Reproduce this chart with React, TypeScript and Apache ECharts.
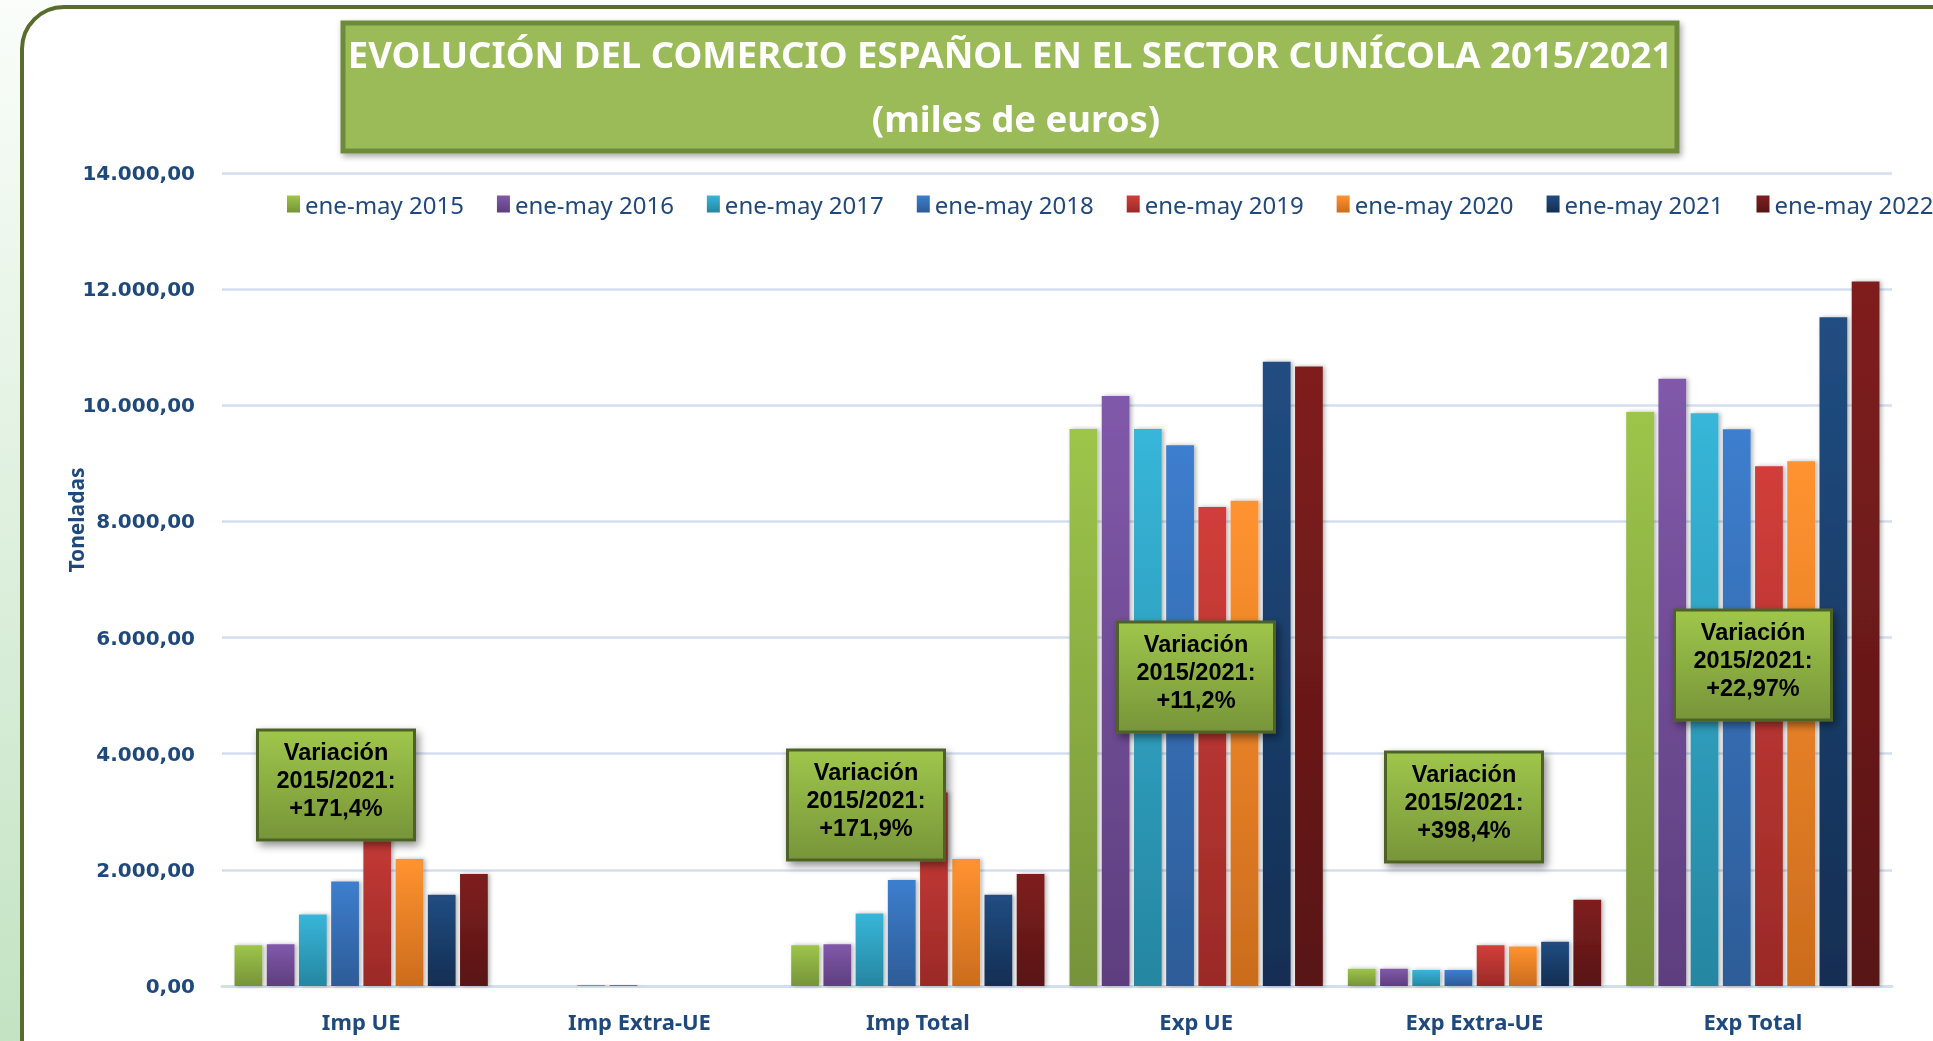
import React, { useEffect, useRef } from "react";
import * as echarts from "echarts";

const categories = ["Imp UE", "Imp Extra-UE", "Imp Total", "Exp UE", "Exp Extra-UE", "Exp Total"];
const seriesNames = [
  "ene-may 2015",
  "ene-may 2016",
  "ene-may 2017",
  "ene-may 2018",
  "ene-may 2019",
  "ene-may 2020",
  "ene-may 2021",
  "ene-may 2022",
];
const v2015 = [700, 0, 700, 9590, 297, 9885];
const v2016 = [720, 0, 720, 10160, 297, 10457];
const v2017 = [1230, 15, 1250, 9590, 276, 9863];
const v2018 = [1800, 15, 1825, 9310, 276, 9587];
const v2019 = [3300, 0, 3330, 8250, 700, 8950];
const v2020 = [2185, 0, 2185, 8356, 680, 9036];
const v2021 = [1570, 0, 1570, 10750, 763, 11517];
const v2022 = [1930, 0, 1930, 10670, 1485, 12132];
const seriesValues = [v2015, v2016, v2017, v2018, v2019, v2020, v2021, v2022];

const yTicks = [0, 2000, 4000, 6000, 8000, 10000, 12000, 14000];

const titleLine1 = "EVOLUCIÓN DEL COMERCIO ESPAÑOL EN EL SECTOR CUNÍCOLA 2015/2021";
const titleLine2 = "(miles de euros)";
const yAxisName = "Toneladas";
const annotationTexts = ["+171,4%", "+171,9%", "+11,2%", "+398,4%", "+22,97%"];

// styling / layout (not data)
const barColors: [string, string][] = [
  ["#9DC54A", "#76933A"],
  ["#8159AA", "#5D3E7E"],
  ["#37B6D9", "#2686A1"],
  ["#3D7ECE", "#2D5C97"],
  ["#D23E3A", "#9A2A27"],
  ["#FF9330", "#CB6C1D"],
  ["#214D82", "#132E52"],
  ["#801F1F", "#581414"],
];
const annotationBoxes = [
  { cx: 336, cy: 785 },
  { cx: 866, cy: 805 },
  { cx: 1196, cy: 677 },
  { cx: 1464, cy: 807 },
  { cx: 1753, cy: 665 },
];

function fmt(v: number) {
  const s = Math.round(v).toString().replace(/\B(?=(\d{3})+(?!\d))/g, ".");
  return s + ",00";
}

export default function App() {
  const ref = useRef<HTMLDivElement>(null);
  useEffect(() => {
    if (!ref.current) return;
    const chart = echarts.init(ref.current, null, { renderer: "svg" });
    const W = 1933;
    const H = 1041;

    const graphics: any[] = [
      {
        type: "rect",
        z: -20,
        silent: true,
        shape: { x: 0, y: 0, width: W, height: H },
        style: {
          fill: new echarts.graphic.LinearGradient(0, 0, 0, 1, [
            { offset: 0, color: "#FAFDFA" },
            { offset: 1, color: "#C3E3C3" },
          ]),
        },
      },
      {
        type: "rect",
        z: -19,
        silent: true,
        shape: { x: 22, y: 7, width: 1950, height: 1080, r: 42 },
        style: { fill: "#FFFFFF", stroke: "#5A6C2C", lineWidth: 4 },
      },
      {
        type: "rect",
        z: 50,
        silent: true,
        shape: { x: 343, y: 23, width: 1334, height: 128 },
        style: {
          fill: "#9BBB59",
          stroke: "#6E8A3A",
          lineWidth: 5,
          shadowBlur: 6,
          shadowOffsetX: 2,
          shadowOffsetY: 3,
          shadowColor: "rgba(0,0,0,0.35)",
        },
      },
      {
        type: "text",
        z: 51,
        silent: true,
        x: 1010,
        y: 54,
        style: {
          text: titleLine1,
          fill: "#FFFFFF",
          fontSize: 36.5,
          fontWeight: "bold",
          fontFamily: "Noto Sans",
          align: "center",
          verticalAlign: "middle",
          textAlign: "center",
          textVerticalAlign: "middle",
        },
      },
      {
        type: "text",
        z: 51,
        silent: true,
        x: 1016,
        y: 118,
        style: {
          text: titleLine2,
          fill: "#FFFFFF",
          fontSize: 36.5,
          fontWeight: "bold",
          fontFamily: "Noto Sans",
          align: "center",
          verticalAlign: "middle",
          textAlign: "center",
          textVerticalAlign: "middle",
        },
      },
      {
        type: "text",
        z: 51,
        silent: true,
        x: 76,
        y: 520,
        rotation: Math.PI / 2,
        style: {
          text: yAxisName,
          fill: "#1F497D",
          fontSize: 21,
          fontWeight: "bold",
          fontFamily: "Noto Sans",
          align: "center",
          verticalAlign: "middle",
          textAlign: "center",
          textVerticalAlign: "middle",
        },
      },
    ];

    annotationTexts.forEach((t, i) => {
      const b = annotationBoxes[i];
      const w = 157;
      const h = 110;
      graphics.push({
        type: "rect",
        z: 60,
        silent: true,
        shape: { x: b.cx - w / 2, y: b.cy - h / 2, width: w, height: h },
        style: {
          fill: new echarts.graphic.LinearGradient(0, 0, 0, 1, [
            { offset: 0, color: "#9FC64B" },
            { offset: 1, color: "#779539" },
          ]),
          stroke: "#4F6228",
          lineWidth: 3,
          shadowBlur: 8,
          shadowOffsetX: 3,
          shadowOffsetY: 4,
          shadowColor: "rgba(0,0,0,0.45)",
        },
      });
      graphics.push({
        type: "text",
        z: 61,
        silent: true,
        x: b.cx,
        y: b.cy - 5,
        style: {
          text: "Variación\n2015/2021:\n" + t,
          fill: "#000000",
          fontSize: 23.5,
          fontWeight: "bold",
          fontFamily: "Liberation Sans",
          lineHeight: 28,
          align: "center",
          verticalAlign: "middle",
          textAlign: "center",
          textVerticalAlign: "middle",
        },
      });
    });

    const option: any = {
      animation: false,
      backgroundColor: "transparent",
      grid: { left: 222, right: 41, top: 173, bottom: 55, containLabel: false },
      legend: {
        show: true,
        left: 287,
        top: 192,
        width: 1700,
        padding: 0,
        itemWidth: 13,
        itemHeight: 17,
        itemGap: 33,
        icon: "rect",
        data: seriesNames,
        textStyle: { color: "#1F497D", fontSize: 24, fontFamily: "Noto Sans" },
      },
      xAxis: {
        type: "category",
        data: categories,
        axisLine: { lineStyle: { color: "#D3DFEF", width: 3 } },
        axisTick: { show: false },
        axisLabel: {
          color: "#1F497D",
          fontSize: 22,
          fontWeight: "bold",
          fontFamily: "Noto Sans",
          margin: 24,
        },
      },
      yAxis: {
        type: "value",
        min: yTicks[0],
        max: yTicks[yTicks.length - 1],
        interval: yTicks[1] - yTicks[0],
        axisLine: { show: false },
        axisTick: { show: false },
        splitLine: { lineStyle: { color: "#D3DFEF", width: 2.5 } },
        axisLabel: {
          formatter: (v: number) => fmt(v),
          color: "#1F497D",
          fontSize: 20,
          fontWeight: "bold",
          fontFamily: "DejaVu Sans",
          margin: 27,
        },
      },
      series: seriesNames.map((n, i) => ({
        name: n,
        type: "bar",
        data: seriesValues[i],
        barGap: "16%",
        barCategoryGap: "9%",
        itemStyle: {
          color: new echarts.graphic.LinearGradient(0, 0, 0, 1, [
            { offset: 0, color: barColors[i][0] },
            { offset: 1, color: barColors[i][1] },
          ]),
          shadowBlur: 4,
          shadowOffsetX: 2,
          shadowOffsetY: 0,
          shadowColor: "rgba(0,0,0,0.3)",
        },
      })),
      graphic: { elements: graphics },
    };
    chart.setOption(option);
    return () => chart.dispose();
  }, []);
  return (
    <div
      ref={ref}
      style={{ position: "fixed", left: 0, top: 0, width: 1933, height: 1041 }}
    />
  );
}
